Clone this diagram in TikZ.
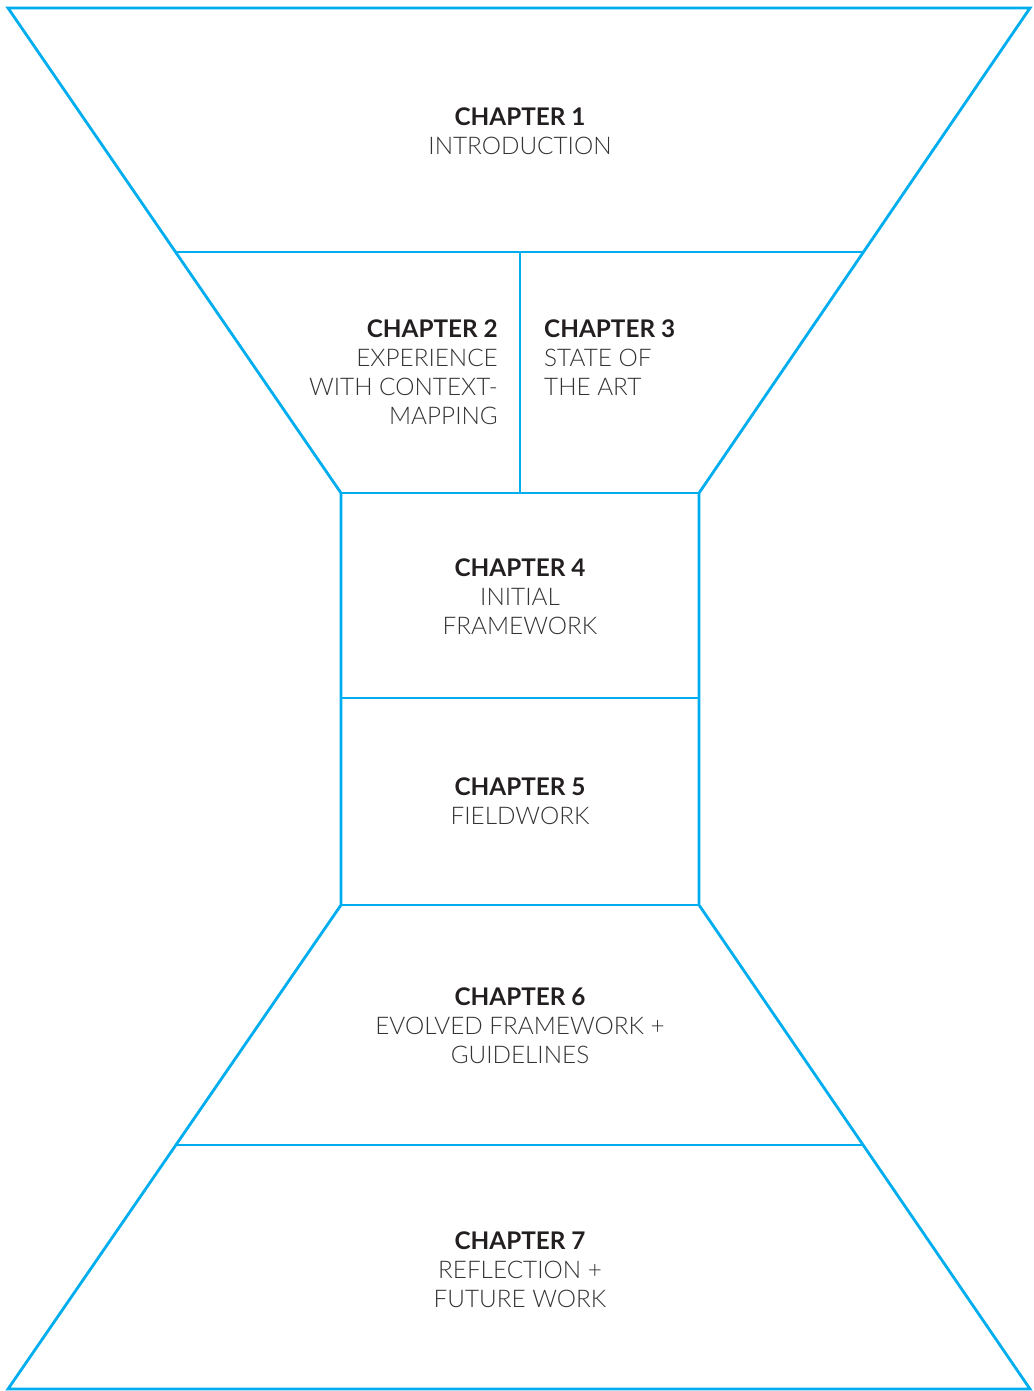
\documentclass[tikz,border=0pt]{standalone}
\usepackage{fontspec}
\setmainfont{Lato}[UprightFont=* Light, BoldFont=* Bold]
\definecolor{lineblue}{HTML}{00AEEF}
\definecolor{txtdark}{HTML}{231F20}
\definecolor{txtlight}{HTML}{333333}
\begin{document}
\begin{tikzpicture}[x=1pt,y=-1pt,
  frame/.style={draw=lineblue,line width=2.8pt,line join=miter},
  label/.style={inner sep=0pt,text=txtlight,font=\fontsize{24.3}{29}\selectfont}]
\useasboundingbox (0,0) rectangle (1033,1391);
% corner coordinates
\coordinate (TL) at (8,8);
\coordinate (TR) at (1030,8);
\coordinate (ML1) at (176,252);
\coordinate (MR1) at (864,252);
\coordinate (MT) at (520,252);
\coordinate (BL1) at (341,493);
\coordinate (BR1) at (699,493);
\coordinate (MB) at (520,493);
\coordinate (CL) at (341,698);
\coordinate (CR) at (699,698);
\coordinate (BL2) at (341,905);
\coordinate (BR2) at (699,905);
\coordinate (ML2) at (176,1145);
\coordinate (MR2) at (864,1145);
\coordinate (BL) at (8,1389);
\coordinate (BR) at (1030,1389);
% outline
\draw[frame] (TL) -- (TR) -- (BR1) -- (BR2) -- (BR) -- (BL) -- (BL2) -- (BL1) -- cycle;
\draw[frame] (ML1) -- (MR1);
\draw[frame] (MT) -- (MB);
\draw[frame] (BL1) -- (BR1);
\draw[frame] (CL) -- (CR);
\draw[frame] (BL2) -- (BR2);
\draw[frame] (ML2) -- (MR2);
% labels
\node[label,anchor=north,align=center] (c1) at (520,108) {\textcolor{txtdark}{\textbf{CHAPTER 1}}\\INTRODUCTION};
\node[label,anchor=north east,align=right] (c2) at (498,320) {\textcolor{txtdark}{\textbf{CHAPTER 2}}\\EXPERIENCE\\WITH CONTEXT-\\MAPPING};
\node[label,anchor=north west,align=left] (c3) at (544,320) {\textcolor{txtdark}{\textbf{CHAPTER 3}}\\STATE OF\\THE ART};
\node[label,anchor=north,align=center] (c4) at (520,559) {\textcolor{txtdark}{\textbf{CHAPTER 4}}\\INITIAL\\FRAMEWORK};
\node[label,anchor=north,align=center] (c5) at (520,778) {\textcolor{txtdark}{\textbf{CHAPTER 5}}\\FIELDWORK};
\node[label,anchor=north,align=center] (c6) at (520,988) {\textcolor{txtdark}{\textbf{CHAPTER 6}}\\EVOLVED FRAMEWORK +\\GUIDELINES};
\node[label,anchor=north,align=center] (c7) at (520,1232) {\textcolor{txtdark}{\textbf{CHAPTER 7}}\\REFLECTION +\\FUTURE WORK};
\end{tikzpicture}
\end{document}
